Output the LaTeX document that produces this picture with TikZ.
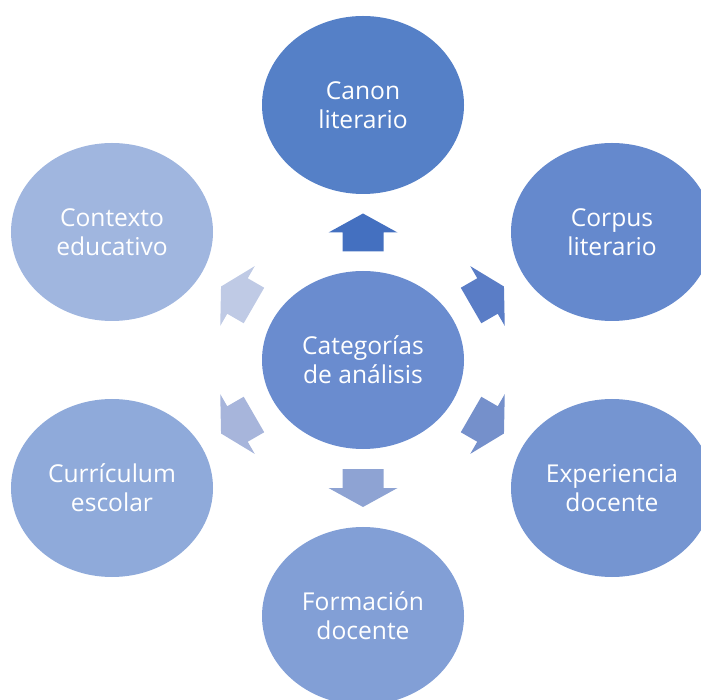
\documentclass[tikz,border=0pt]{standalone}
\usepackage{fontspec}
\setmainfont{Open Sans}
\usetikzlibrary{shapes.geometric,calc}
\definecolor{cCat}{HTML}{6A8CCF}
\definecolor{cCanon}{HTML}{5580C7}
\definecolor{cCorpus}{HTML}{6589CD}
\definecolor{cExper}{HTML}{7595D1}
\definecolor{cForma}{HTML}{829FD6}
\definecolor{cCurri}{HTML}{8FAADA}
\definecolor{cContexto}{HTML}{A0B6DF}
\definecolor{aCanon}{HTML}{4470C0}
\definecolor{aCorpus}{HTML}{5A7DC6}
\definecolor{aExper}{HTML}{7590CB}
\definecolor{aForma}{HTML}{8EA3D3}
\definecolor{aCurri}{HTML}{A7B5DB}
\definecolor{aContexto}{HTML}{BFCAE5}
\begin{document}
\begin{tikzpicture}[x=0.2mm,y=0.2mm,
  bubble/.style={ellipse,minimum width=40.4mm,minimum height=35.6mm,inner sep=0pt,
    text=white,align=center,font=\fontsize{14pt}{16.5pt}\selectfont},
  blockarr/.pic={\fill (-19,-20.5) -- (0,-20.5) -- (0,-34.5) -- (19,0) -- (0,34.5) -- (0,20.5) -- (-19,20.5) -- cycle;}]
 \useasboundingbox (0,0) rectangle (701,-700);
 \clip (0,0) rectangle (701,-700);
 \node[bubble,fill=cCat] (cat) at (363,-360) {Categorías\\de análisis};
 \node[bubble,fill=cCanon] (canon) at (363,-105) {Canon\\literario};
 \node[bubble,fill=cCorpus] (corpus) at (612,-232) {Corpus\\literario};
 \node[bubble,fill=cExper] (exper) at (612,-488) {Experiencia\\docente};
 \node[bubble,fill=cForma] (forma) at (363,-616) {Formación\\docente};
 \node[bubble,fill=cCurri] (curri) at (112,-488) {Currículum\\escolar};
 \node[bubble,fill=cContexto] (contexto) at (112,-232) {Contexto\\educativo};
 % arrows from the centre
 \pic[rotate=90,fill=aCanon] at ($(cat)!0.5!(canon)$) {blockarr};
 \pic[rotate=30,fill=aCorpus] at ($(cat)!0.5!(corpus)$) {blockarr};
 \pic[rotate=-30,fill=aExper] at ($(cat)!0.5!(exper)$) {blockarr};
 \pic[rotate=-90,fill=aForma] at ($(cat)!0.5!(forma)$) {blockarr};
 \pic[rotate=210,fill=aCurri] at ($(cat)!0.5!(curri)$) {blockarr};
 \pic[rotate=150,fill=aContexto] at ($(cat)!0.5!(contexto)$) {blockarr};
\end{tikzpicture}
\end{document}
